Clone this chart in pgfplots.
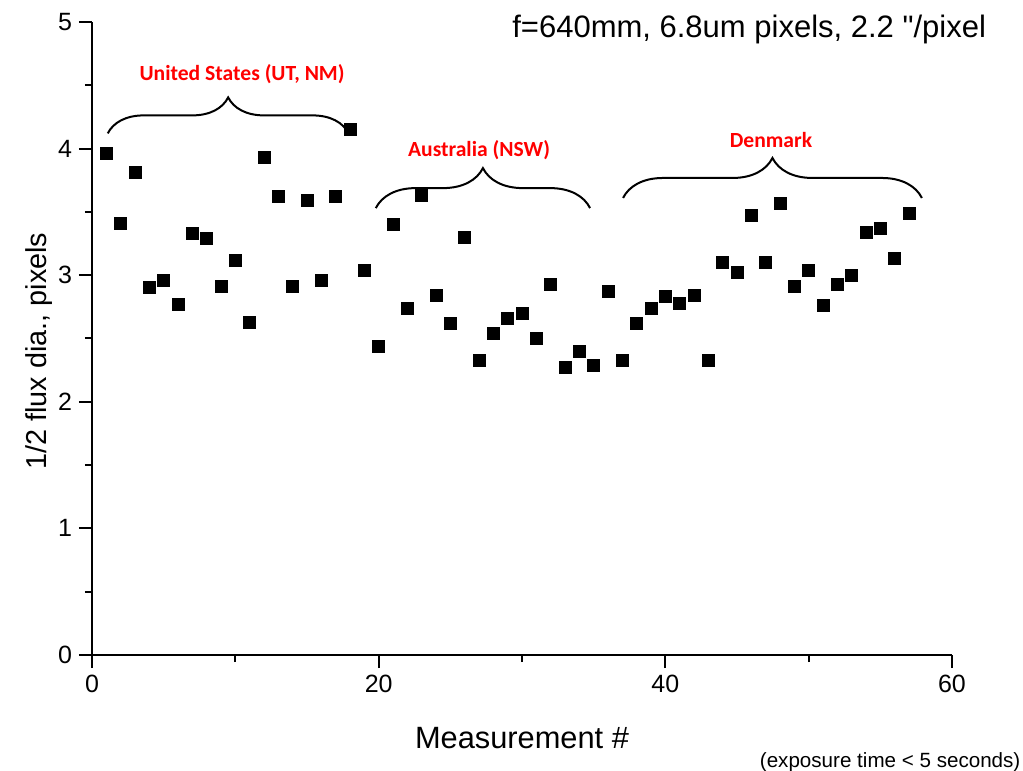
\documentclass[border=0pt]{standalone}
\usepackage{fontspec}
\setmainfont{Liberation Sans}[Ligatures=TeXOff]
\newfontfamily\calib{Carlito}
\usepackage{pgfplots}
\pgfplotsset{compat=1.18}
\usetikzlibrary{decorations.pathreplacing}

\begin{document}
\begin{tikzpicture}
\useasboundingbox (-46pt,-58pt) rectangle (465.5pt,327.5pt);
\begin{axis}[
  at={(0,0)}, anchor=south west,
  scale only axis,
  width=430pt, height=316.5pt,
  xmin=0, xmax=60, ymin=0, ymax=5,
  axis lines*=left,
  axis line style={line width=1pt, -},
  xtick={0,20,40,60}, minor xtick={10,30,50},
  ytick={0,1,2,3,4,5}, minor ytick={0.5,1.5,2.5,3.5,4.5},
  tick align=outside,
  major tick length=6.5pt, minor tick length=3.5pt,
  every tick/.style={line width=1pt, black},
  tick label style={font=\fontsize{12.5}{14}\selectfont},
  /pgf/number format/assume math mode=true,
  xlabel={Measurement \#},
  ylabel={1/2 flux dia., pixels},
  xlabel style={font=\fontsize{15.4}{17}\selectfont, at={(axis description cs:0.5,0)}, anchor=base, yshift=-46.5pt},
  ylabel style={font=\fontsize{14.4}{16}\selectfont, at={(axis description cs:-0.053,0.48)}, anchor=base},
  clip=false,
]
\addplot[only marks, mark=square*, mark size=3pt, black] coordinates {
(1,3.96) (2,3.41) (3,3.81) (4,2.90) (5,2.96) (6,2.77) (7,3.33) (8,3.29)
(9,2.91) (10,3.12) (11,2.63) (12,3.93) (13,3.62) (14,2.91) (15,3.59) (16,2.96)
(17,3.62) (18,4.15) (19,3.04) (20,2.44) (21,3.40) (22,2.74) (23,3.63) (24,2.84)
(25,2.62) (26,3.30) (27,2.33) (28,2.54) (29,2.66) (30,2.70) (31,2.50) (32,2.93)
(33,2.27) (34,2.40) (35,2.29) (36,2.87) (37,2.33) (38,2.62) (39,2.74) (40,2.83)
(41,2.78) (42,2.84) (43,2.33) (44,3.10) (45,3.02) (46,3.47) (47,3.10) (48,3.57)
(49,2.91) (50,3.04) (51,2.76) (52,2.93) (53,3.00) (54,3.34) (55,3.37) (56,3.13)
(57,3.49)
};
\draw[decorate, decoration={brace, amplitude=18pt}, line width=1pt]
  (axis cs:1.1,4.12) -- (axis cs:17.9,4.12);
\draw[decorate, decoration={brace, amplitude=20pt}, line width=1pt]
  (axis cs:19.8,3.53) -- (axis cs:34.75,3.53);
\draw[decorate, decoration={brace, amplitude=20pt}, line width=1pt]
  (axis cs:37.05,3.61) -- (axis cs:57.9,3.61);
\node[text=red, font=\calib\bfseries\fontsize{10.8}{12}\selectfont] at (axis cs:10.47,4.59) {United States (UT, NM)};
\node[text=red, font=\calib\bfseries\fontsize{10.8}{12}\selectfont] at (axis cs:27.0,3.99) {Australia (NSW)};
\node[text=red, font=\calib\bfseries\fontsize{10.8}{12}\selectfont] at (axis cs:47.37,4.07) {Denmark};
\node[anchor=base east, font=\fontsize{15.5}{17}\selectfont, inner sep=0pt] at (axis cs:62.4,4.88) {f=640mm, 6.8um pixels, 2.2 "/pixel};
\node[anchor=base east, font=\fontsize{10.3}{12}\selectfont, inner sep=0pt] at (axis cs:64.8,-0.885) {(exposure time < 5 seconds)};
\end{axis}
\end{tikzpicture}
\end{document}
